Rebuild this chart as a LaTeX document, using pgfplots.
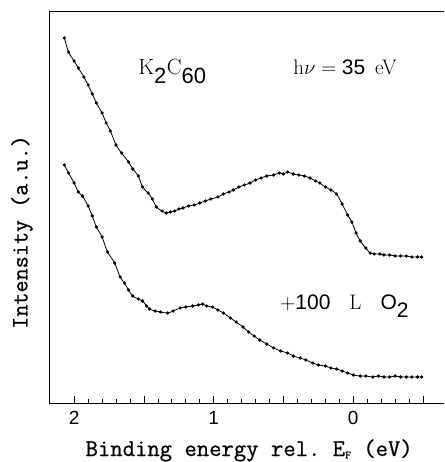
\documentclass[border=0pt]{standalone}
\usepackage{fontspec}
\setsansfont{Liberation Sans}
\setmonofont{Latin Modern Mono}[FakeBold=0.8]
\usepackage{pgfplots}
\pgfplotsset{compat=1.18}
\usepackage{pgfplotstable}

\pgfplotstableread{
x y
2.07 365
2.04 351
2.00 342
1.97 335
1.93 326
1.90 318
1.87 309
1.84 300
1.80 290
1.77 280
1.74 272
1.70 258
1.66 250
1.61 241
1.58 234
1.54 227
1.51 216
1.47 210
1.44 204
1.41 196
1.37 192
1.34 190
1.31 191
1.28 192
1.25 194
1.22 195
1.18 197
1.14 198
1.10 200
1.06 202
1.02 204
0.97 206
0.93 209
0.89 211
0.86 213
0.82 216
0.78 218
0.74 220
0.70 223
0.66 225
0.62 227
0.57 228
0.53 230
0.50 229
0.47 231
0.43 229
0.39 228
0.35 227
0.31 225
0.27 222
0.24 220
0.20 216
0.16 213
0.12 209
0.08 199
0.04 188
0.01 181
-0.02 170
-0.05 162
-0.09 155
-0.12 150
-0.15 149
-0.19 149
-0.22 148
-0.26 148
-0.30 147
-0.34 147
-0.38 147
-0.42 146
-0.46 146
-0.49 146
}\uppercurve

\pgfplotstableread{
x y
2.07 238
2.04 230
2.00 220
1.97 211
1.94 207
1.90 197
1.87 187
1.84 176
1.80 166
1.76 151
1.71 140
1.67 126
1.64 120
1.61 113
1.58 107
1.54 104
1.51 102
1.48 97
1.46 94
1.42 92
1.38 91
1.33 90
1.29 92
1.24 95
1.20 96
1.15 97
1.11 98
1.08 99
1.05 97
1.01 96
0.97 93
0.93 90
0.88 85
0.84 81
0.79 76
0.75 71
0.71 67
0.67 63
0.62 59
0.57 55
0.52 52
0.47 50
0.43 47
0.38 45
0.34 43
0.29 40
0.25 38
0.20 37
0.16 35
0.12 34
0.08 32
0.04 30
0.00 28
-0.05 27
-0.09 27
-0.14 26
-0.18 27
-0.22 26
-0.26 26
-0.30 27
-0.34 26
-0.38 26
-0.42 26
-0.46 26
-0.49 26
}\lowercurve

\begin{document}
\begin{tikzpicture}
\begin{axis}[
  scale only axis, width=395pt, height=392pt,
  xmin=-0.65, xmax=2.18, ymin=0, ymax=392, x dir=reverse,
  axis line style={draw=none},
  ytick=\empty,
  xtick={2,1.5,1,0.5,0,-0.5}, xticklabels={2,,1,,0,},
  minor x tick num=4,
  xtick pos=left,
  tick align=inside,
  major tick length=7pt, minor tick length=4pt,
  tick style={line width=0.7pt, black},
  clip=false,
  ticklabel style={font=\fontsize{19}{21}\selectfont\sffamily},
  /pgf/number format/assume math mode=true,
  xticklabel style={yshift=-5pt},
]
\coordinate (BL) at (axis cs:2.18,0);
\coordinate (TR) at (axis cs:-0.65,392);
\draw[line width=0.8pt] (axis cs:-0.65,392) -- (axis cs:2.18,392) -- (axis cs:2.18,0) -- (axis cs:-0.65,0);

\addplot[black, line width=0.8pt, smooth, mark=*, mark size=1.2pt] table[x=x,y=y] {\uppercurve};
\addplot[black, line width=0.8pt, smooth, mark=*, mark size=1.2pt] table[x=x,y=y] {\lowercurve};

\node[anchor=base west, inner sep=0pt, font=\fontsize{22}{24}\selectfont] at (axis cs:1.541,328) {K$_{\textsf{2}}$C$_{\textsf{60}}$};
\node[anchor=base west, inner sep=0pt, font=\fontsize{21}{24}\selectfont] at (axis cs:0.430,328) {h$\nu\;{=}\;$\textsf{35}\ \,eV};
\node[anchor=base west, inner sep=0pt, font=\fontsize{21}{24}\selectfont] at (axis cs:0.523,93) {$+$\textsf{100}\ \ \ L\ \ \ \textsf{O}$_{\textsf{2}}$};
\node[anchor=base, inner sep=0pt, font=\fontsize{24}{26}\selectfont\ttfamily] at (axis cs:0.746,-53) {Binding energy rel. E\raisebox{-0.1em}{\fontsize{11}{11}\selectfont F} (eV)};
\end{axis}
\node[anchor=center, inner sep=0pt, rotate=90, font=\fontsize{23.5}{25}\selectfont\ttfamily] at ([xshift=-27pt,yshift=171pt]BL) {Intensity (a.u.)};
\pgfresetboundingbox
\useasboundingbox ([xshift=-49pt,yshift=-59pt]BL) rectangle ([yshift=11pt]TR);
\end{tikzpicture}
\end{document}
